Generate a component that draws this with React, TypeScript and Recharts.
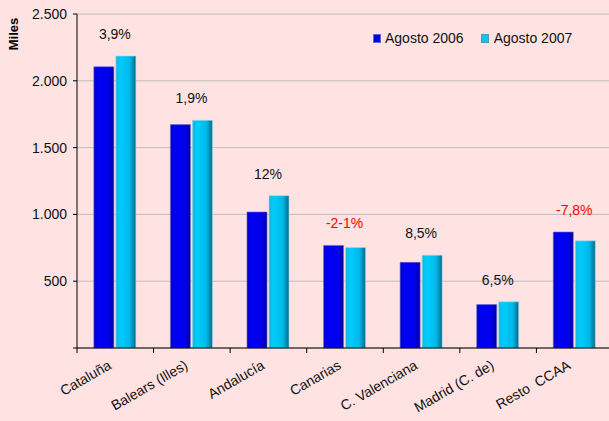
import React from "react";
import { BarChart, Bar, XAxis, YAxis, CartesianGrid, Legend, LabelList } from "recharts";

const regions = ["Cataluña", "Balears (Illes)", "Andalucía", "Canarias", "C. Valenciana", "Madrid (C. de)", "Resto  CCAA"];
const agosto2006 = [2105, 1672, 1018, 768, 641, 325, 868];
const agosto2007 = [2185, 1704, 1140, 752, 695, 346, 802];
const variacion = ["3,9%", "1,9%", "12%", "-2-1%", "8,5%", "6,5%", "-7,8%"];
const yTicks = [0, 500, 1000, 1500, 2000, 2500];

const data = regions.map((region, i) => ({
  region,
  a2006: agosto2006[i],
  a2007: agosto2007[i],
  variacion: variacion[i],
}));

const CHART_W = 613;
const Y_AXIS_W = 77;
const BAND = (CHART_W - Y_AXIS_W) / regions.length;
const FONT = "'Liberation Sans', Arial, sans-serif";

const fmt = (v: number) => (v === 0 ? "" : v.toLocaleString("de-DE"));

const RegionTick = (props: any) => {
  const { x, y, payload } = props;
  const left = x - BAND / 2;
  return (
    <g>
      <line x1={left} y1={y} x2={left} y2={y + 5} stroke="#000" strokeWidth={1} />
      <text
        x={x - 3}
        y={y + 20}
        textAnchor="end"
        fontSize={14}
        fill="#111"
        fontFamily={FONT}
        style={{ whiteSpace: "pre" }}
        transform={`rotate(-30, ${x - 3}, ${y + 20})`}
      >
        {payload.value}
      </text>
    </g>
  );
};

const ChangeLabel = (props: any) => {
  const { x, y, width, height, index } = props;
  const v6 = agosto2006[index];
  const v7 = agosto2007[index];
  const top7 = y + height - (v7 / v6) * height;
  const top = Math.min(y, top7);
  const txt = variacion[index];
  return (
    <text
      x={x + width + 1}
      y={top - 17}
      textAnchor="middle"
      fontSize={14}
      fontFamily={FONT}
      fill={txt.startsWith("-") ? "#FF0000" : "#111"}
    >
      {txt}
    </text>
  );
};

const LegendBox = () => (
  <div style={{ display: "flex", fontFamily: FONT, fontSize: 14, color: "#111" }}>
    <span style={{ display: "flex", alignItems: "center", marginRight: 17 }}>
      <span style={{ width: 6, height: 7, background: "#0000EE", border: "1px solid #6666CC", marginRight: 4 }} />
      Agosto 2006
    </span>
    <span style={{ display: "flex", alignItems: "center" }}>
      <span style={{ width: 6, height: 7, background: "#00C8F0", border: "1px solid #5599AA", marginRight: 5 }} />
      Agosto 2007
    </span>
  </div>
);

const MilesLabel = () => (
  <text
    x={18}
    y={34}
    textAnchor="middle"
    fontSize={13}
    fontWeight="bold"
    fontFamily={FONT}
    fill="#000"
    transform="rotate(-90, 18, 34)"
  >
    Miles
  </text>
);

export default function App() {
  return (
    <div
      style={{
        position: "absolute",
        left: 0,
        top: 0,
        width: 609,
        height: 421,
        overflow: "hidden",
        background: "#FFE3E3",
      }}
    >
      <BarChart
        width={CHART_W}
        height={421}
        data={data}
        margin={{ top: 14, right: 0, left: 0, bottom: 0 }}
        barCategoryGap="22%"
        barGap={2}
      >
        <defs>
          <linearGradient id="g2006" x1="0" y1="0" x2="1" y2="0">
            <stop offset="0%" stopColor="#0000C8" />
            <stop offset="25%" stopColor="#0000F5" />
            <stop offset="75%" stopColor="#0000E8" />
            <stop offset="100%" stopColor="#000098" />
          </linearGradient>
          <linearGradient id="g2007" x1="0" y1="0" x2="1" y2="0">
            <stop offset="0%" stopColor="#10B8E0" />
            <stop offset="25%" stopColor="#00CCFF" />
            <stop offset="70%" stopColor="#00B8E8" />
            <stop offset="100%" stopColor="#006A88" />
          </linearGradient>
        </defs>
        <CartesianGrid vertical={false} stroke="#BDBDBD" strokeWidth={1} />
        <YAxis
          width={Y_AXIS_W}
          domain={[0, 2500]}
          ticks={yTicks}
          tickFormatter={fmt}
          interval={0}
          axisLine={{ stroke: "#000" }}
          tickLine={{ stroke: "#000" }}
          tickSize={4}
          tickMargin={6}
          tick={{ fontSize: 14, fill: "#111", fontFamily: FONT }}
          label={<MilesLabel />}
        />
        <XAxis
          dataKey="region"
          height={73}
          interval={0}
          axisLine={{ stroke: "#000" }}
          tickLine={false}
          tickSize={0}
          tickMargin={0}
          tick={<RegionTick />}
        />
        <Legend
          verticalAlign="middle"
          align="center"
          content={<LegendBox />}
          wrapperStyle={{ position: "absolute", top: 30, left: 373, width: 240 }}
        />
        <Bar dataKey="a2006" name="Agosto 2006" fill="url(#g2006)" stroke="#6A6AD0" strokeWidth={0.6} isAnimationActive={false}>
          <LabelList dataKey="a2006" content={<ChangeLabel />} />
        </Bar>
        <Bar dataKey="a2007" name="Agosto 2007" fill="url(#g2007)" stroke="#9FD8E8" strokeWidth={0.6} isAnimationActive={false} />
      </BarChart>
    </div>
  );
}
